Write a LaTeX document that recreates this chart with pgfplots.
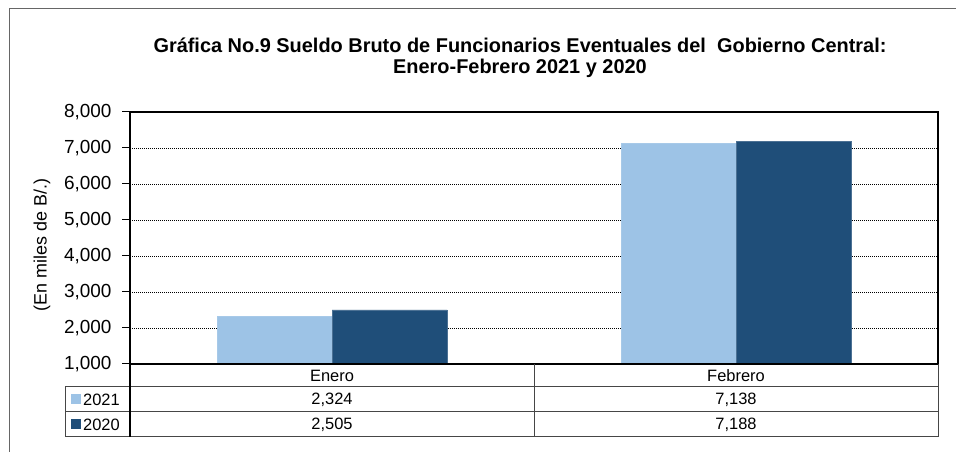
\documentclass[border=0pt]{standalone}
\usepackage{pgfplots}
\pgfplotsset{compat=1.18}
\usepackage{fontspec}
\setmainfont{Liberation Sans}
\definecolor{c2021}{RGB}{157,195,230}
\definecolor{c2020}{RGB}{31,78,121}
\definecolor{tline}{RGB}{70,70,70}
\begin{document}
\begin{tikzpicture}[x=1bp,y=1bp]
\useasboundingbox (0,0) rectangle (956,452);
\draw[gray!80!black, line width=1bp] (9.5,0) -- (9.5,443) -- (956,443);
% title
\node[align=center, font=\bfseries\fontsize{20}{21}\selectfont] at (520,394)
  {Gráfica No.9 Sueldo Bruto de Funcionarios Eventuales del\ \ Gobierno Central:\\Enero-Febrero 2021 y 2020};
\node[rotate=90, font=\fontsize{18}{18}\selectfont] at (42,207) {(En miles de B/.)};
\begin{axis}[
    at={(130bp,88bp)}, anchor=south west,
    width=808bp, height=252bp, scale only axis,
    ybar=0pt, bar width=115bp,
    xmin=-0.5, xmax=1.5,
    ymin=1000, ymax=8000,
    xtick=\empty,
    ytick={1000,2000,...,8000},
    ymajorgrids,
    grid style={black, line width=0.6bp, dash pattern=on 1bp off 1bp},
    axis line style={black, line width=1.8bp},
    ytick style={black, line width=1bp},
    tick align=outside, major tick length=8bp, ytick pos=left,
    yticklabel style={font=\fontsize{19}{19}\selectfont, xshift=-7bp},
    /pgf/number format/assume math mode=true,
    /pgf/number format/1000 sep={,},
    scaled y ticks=false,
]
\addplot[fill=c2021, draw=c2021!90!white] coordinates {(0,2324) (1,7138)};
\addplot[fill=c2020, draw=c2020!80!white] coordinates {(0,2505) (1,7188)};
\end{axis}
% data table
\draw[black, line width=1.8bp] (130,88) -- (938,88);
\draw[tline, line width=1bp] (65,65) -- (938,65) (65,40) -- (938,40) (65,15) -- (938,15)
  (65,65) -- (65,15) (534,88) -- (534,15) (938,88) -- (938,15);
\draw[black, line width=1.2bp] (130,88) -- (130,15);
\begin{scope}[font=\fontsize{16.5}{16.5}\selectfont]
\node at (332,76.5) {Enero};
\node at (736,76.5) {Febrero};
\node at (332,52.5) {2,324};
\node at (736,52.5) {7,138};
\node at (332,27.5) {2,505};
\node at (736,27.5) {7,188};
\fill[c2021] (71,47.5) rectangle (81,57.5);
\fill[c2020] (71,22.5) rectangle (81,32.5);
\node[anchor=west, inner sep=1bp] at (82,52.5) {2021};
\node[anchor=west, inner sep=1bp] at (82,27.5) {2020};
\end{scope}
\end{tikzpicture}
\end{document}
